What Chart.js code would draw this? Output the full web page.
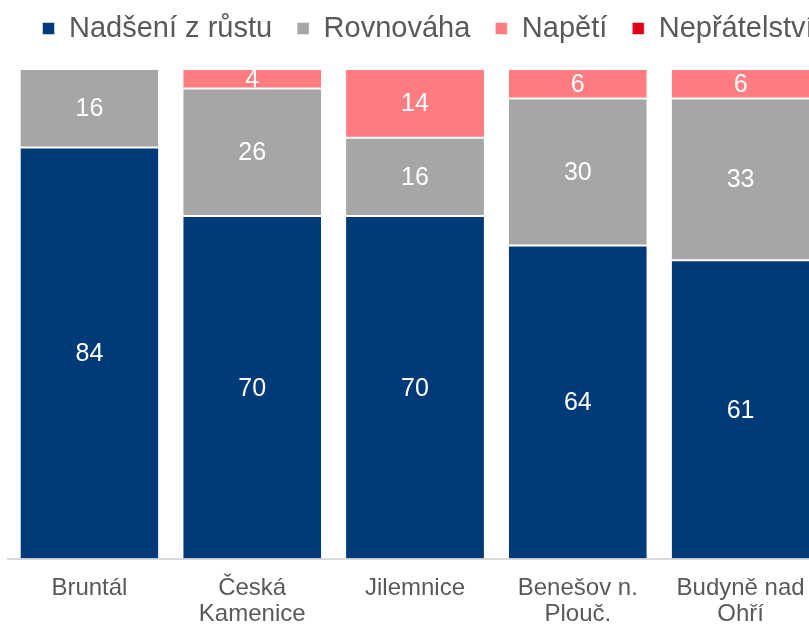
<!DOCTYPE html>
<html>
<head>
<meta charset="utf-8">
<script src="https://cdn.jsdelivr.net/npm/chart.js@4/dist/chart.umd.min.js"></script>
<style>
  html, body { margin: 0; padding: 0; background: #fff; overflow: hidden; }
  #wrap { width: 848px; height: 626px; }
</style>
</head>
<body>
<div id="wrap"><canvas id="mixChart"></canvas></div>
<script>
var towns = [['Bruntál'], ['Česká', 'Kamenice'], ['Jilemnice'], ['Benešov n.', 'Plouč.'], ['Budyně nad', 'Ohří']];
var growthVals = [84, 70, 70, 64, 61];
var balanceVals = [16, 26, 16, 30, 33];
var tensionVals = [0, 4, 14, 6, 6];
var hostilityVals = [0, 0, 0, 0, 0];

var fontFam = '"Liberation Sans", Arial, sans-serif';

// white numbers in the middle of each segment
var segmentLabels = {
  id: 'segmentLabels',
  afterDatasetsDraw: function(chart) {
    var ctx = chart.ctx;
    ctx.save();
    ctx.fillStyle = '#ffffff';
    ctx.font = '25px ' + fontFam;
    ctx.textAlign = 'center';
    ctx.textBaseline = 'middle';
    chart.data.datasets.forEach(function(ds, i) {
      var meta = chart.getDatasetMeta(i);
      meta.data.forEach(function(bar, j) {
        var v = ds.data[j];
        if (!v) return;
        ctx.fillText(v, bar.x, (bar.y + bar.base) / 2 + 1);
      });
    });
    ctx.restore();
  }
};

// small extra gap under the legend
var legendGap = {
  id: 'legendGap',
  beforeInit: function(chart) {
    var origFit = chart.legend.fit;
    chart.legend.fit = function() {
      origFit.bind(chart.legend)();
      this.height += 16;
    };
  }
};

var barStyle = { borderColor: '#ffffff', borderWidth: {top: 1, bottom: 1, left: 0, right: 0}, borderSkipped: false,
                 barPercentage: 1, categoryPercentage: 0.847 };

new Chart(document.getElementById('mixChart'), {
  type: 'bar',
  data: {
    labels: towns,
    datasets: [
      Object.assign({ label: 'Nadšení z růstu', data: growthVals, backgroundColor: '#003A78' }, barStyle),
      Object.assign({ label: 'Rovnováha', data: balanceVals, backgroundColor: '#A6A6A6' }, barStyle),
      Object.assign({ label: 'Napětí', data: tensionVals, backgroundColor: '#FF7C80' }, barStyle),
      Object.assign({ label: 'Nepřátelství', data: hostilityVals, backgroundColor: '#E0001B' }, barStyle)
    ]
  },
  options: {
    responsive: true,
    maintainAspectRatio: false,
    animation: false,
    layout: { padding: { left: 8, right: 0, top: -11, bottom: -18 } },
    plugins: {
      legend: {
        position: 'top',
        labels: {
          boxWidth: 12,
          boxHeight: 12,
          padding: 25,
          color: '#595959',
          font: { family: fontFam, size: 29 }
        }
      },
      tooltip: { enabled: false }
    },
    scales: {
      x: {
        stacked: true,
        grid: { display: false, drawTicks: false },
        border: { color: '#D9D9D9', width: 2 },
        ticks: { color: '#595959', font: { family: fontFam, size: 24, lineHeight: 1.1 }, padding: 16, maxRotation: 0, autoSkip: false }
      },
      y: {
        stacked: true,
        position: 'right',
        min: 0,
        max: 100,
        grid: { display: false },
        border: { display: false },
        ticks: { display: false },
        afterFit: function(scale) { scale.width = 26; }
      }
    }
  },
  plugins: [segmentLabels, legendGap]
});
</script>
</body>
</html>
